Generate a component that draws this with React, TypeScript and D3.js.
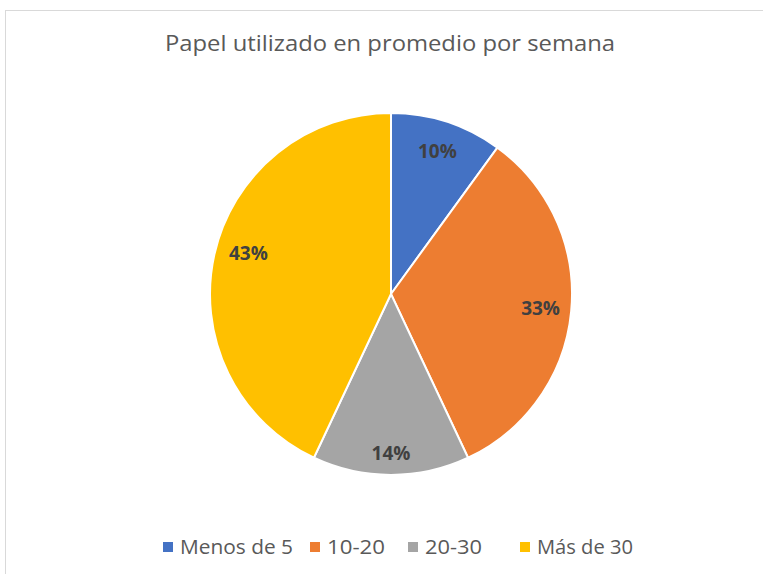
import React, { useEffect, useRef } from "react";
import * as d3 from "d3";

const categories = ["Menos de 5", "10-20", "20-30", "Más de 30"];
const values = [10, 33, 14, 43];
const colors = ["#4472C4", "#ED7D31", "#A5A5A5", "#FFC000"];
const title = "Papel utilizado en promedio por semana";

const W = 763;
const H = 574;

export default function App() {
  const ref = useRef<SVGSVGElement | null>(null);

  useEffect(() => {
    const svg = d3.select(ref.current);
    svg.selectAll("*").remove();

    svg.append("rect").attr("width", W).attr("height", H).attr("fill", "#fff");
    svg
      .append("rect")
      .attr("x", 5.5)
      .attr("y", 10.5)
      .attr("width", W + 10)
      .attr("height", H + 10)
      .attr("fill", "#fff")
      .attr("stroke", "#d9d9d9")
      .attr("stroke-width", 1);

    svg
      .append("text")
      .attr("x", 390)
      .attr("y", 51)
      .attr("text-anchor", "middle")
      .attr("font-family", "'Open Sans', sans-serif")
      .attr("font-size", 22)
      .attr("textLength", 450)
      .attr("lengthAdjust", "spacingAndGlyphs")
      .attr("fill", "#595959")
      .text(title);

    const cx = 391, cy = 294, r = 181;
    const total = d3.sum(values);
    const pie = d3.pie<number>().sort(null).value((d) => d);
    const arcs = pie(values);
    const arc = d3.arc<d3.PieArcDatum<number>>().innerRadius(0).outerRadius(r);
    const labelRadius = [0.83, 0.83, 0.88, 0.82];

    const g = svg.append("g").attr("transform", `translate(${cx},${cy})`);
    g.selectAll("path")
      .data(arcs)
      .join("path")
      .attr("d", arc)
      .attr("fill", (_d, i) => colors[i])
      .attr("stroke", "#fff")
      .attr("stroke-width", 2);

    g.selectAll("text")
      .data(arcs)
      .join("text")
      .attr("transform", (d, i) => {
        const a = (d.startAngle + d.endAngle) / 2 + (i === 3 ? 0.06 : 0);
        const rr = r * labelRadius[i];
        return `translate(${rr * Math.sin(a)},${-rr * Math.cos(a)})`;
      })
      .attr("text-anchor", "middle")
      .attr("dy", "0.35em")
      .attr("font-family", "'Open Sans', sans-serif")
      .attr("font-weight", "bold")
      .attr("font-size", 19)
      .attr("fill", "#404040")
      .text((d) => `${Math.round((d.data / total) * 100)}%`);

    const legendX = [163, 310, 408, 520];
    const legendW = [113, 58, 57, 96];
    const lg = svg.append("g");
    categories.forEach((c, i) => {
      lg.append("rect")
        .attr("x", legendX[i])
        .attr("y", 542)
        .attr("width", 10)
        .attr("height", 10)
        .attr("fill", colors[i]);
      lg.append("text")
        .attr("x", legendX[i] + 17)
        .attr("y", 554)
        .attr("font-family", "'Open Sans', sans-serif")
        .attr("font-size", 20)
        .attr("textLength", legendW[i])
        .attr("lengthAdjust", "spacingAndGlyphs")
        .attr("fill", "#595959")
        .text(c);
    });
  }, []);

  return <svg ref={ref} width={W} height={H} style={{ display: "block", position: "absolute", left: 0, top: 0 }} />;
}
